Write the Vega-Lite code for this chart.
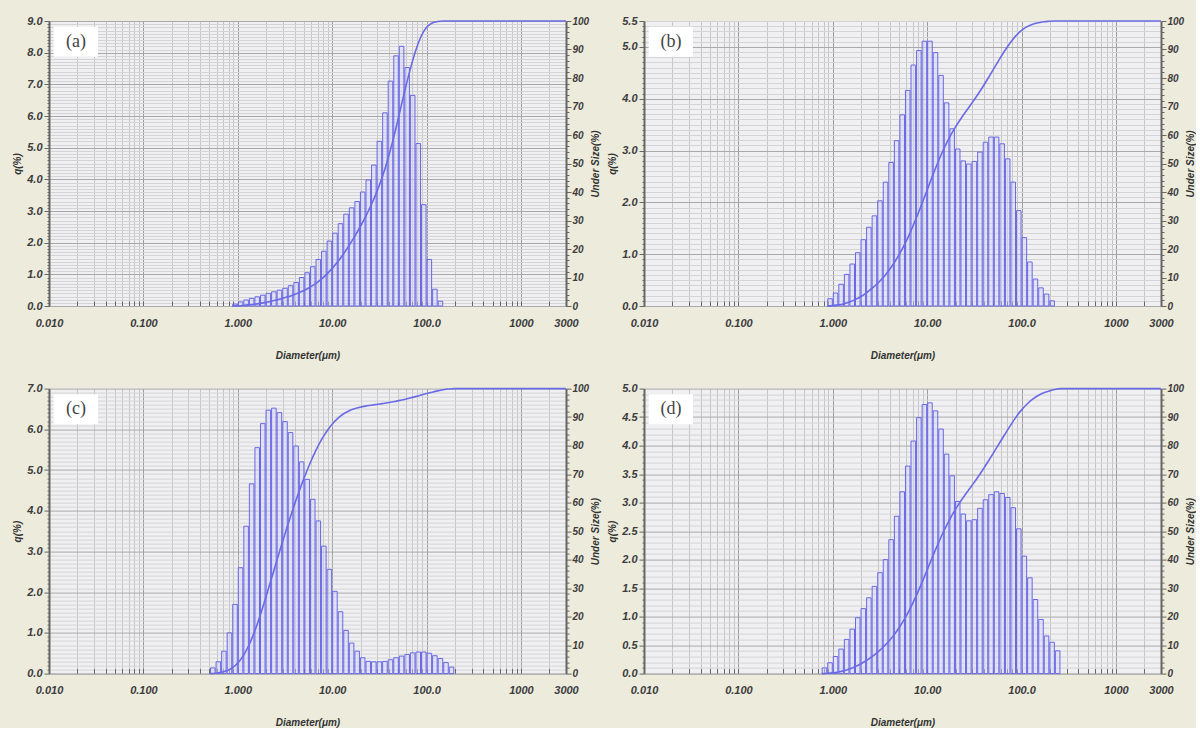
{
"$schema": "https://vega.github.io/schema/vega-lite/v6.json",
"background": "#ecebdc",
"padding": {"left": 12, "top": 15, "right": 0, "bottom": 0},
"bounds": "flush",
"columns": 2,
"spacing": {"row": 82.6, "column": 78},
"datasets": {
"qa": [
{"lo":0.8733,"hi":1,"q":0.06},{"lo":1,"hi":1.145,"q":0.13},{"lo":1.145,"hi":1.311,"q":0.19},{"lo":1.311,"hi":1.501,"q":0.24},{"lo":1.501,"hi":1.719,"q":0.29},{"lo":1.719,"hi":1.968,"q":0.34},{"lo":1.968,"hi":2.254,"q":0.40},{"lo":2.254,"hi":2.581,"q":0.45},{"lo":2.581,"hi":2.955,"q":0.50},{"lo":2.955,"hi":3.384,"q":0.56},{"lo":3.384,"hi":3.875,"q":0.64},{"lo":3.875,"hi":4.437,"q":0.74},{"lo":4.437,"hi":5.08,"q":0.90},{"lo":5.08,"hi":5.817,"q":1.05},{"lo":5.817,"hi":6.661,"q":1.24},{"lo":6.661,"hi":7.627,"q":1.47},{"lo":7.627,"hi":8.733,"q":1.73},{"lo":8.733,"hi":10,"q":2.05},{"lo":10,"hi":11.45,"q":2.30},{"lo":11.45,"hi":13.11,"q":2.60},{"lo":13.11,"hi":15.01,"q":2.90},{"lo":15.01,"hi":17.19,"q":3.10},{"lo":17.19,"hi":19.68,"q":3.30},{"lo":19.68,"hi":22.54,"q":3.60},{"lo":22.54,"hi":25.81,"q":3.98},{"lo":25.81,"hi":29.55,"q":4.45},{"lo":29.55,"hi":33.84,"q":5.20},{"lo":33.84,"hi":38.75,"q":6.10},{"lo":38.75,"hi":44.37,"q":7.10},{"lo":44.37,"hi":50.8,"q":7.90},{"lo":50.8,"hi":58.17,"q":8.20},{"lo":58.17,"hi":66.61,"q":7.53},{"lo":66.61,"hi":76.27,"q":6.65},{"lo":76.27,"hi":87.33,"q":5.13},{"lo":87.33,"hi":100,"q":3.20},{"lo":100,"hi":114.5,"q":1.47},{"lo":114.5,"hi":131.1,"q":0.53},{"lo":131.1,"hi":150.1,"q":0.15}
],
"ua": [
{"d":0.8733,"u":0},{"d":1,"u":0.06},{"d":1.145,"u":0.19},{"d":1.311,"u":0.39},{"d":1.501,"u":0.63},{"d":1.719,"u":0.93},{"d":1.968,"u":1.27},{"d":2.254,"u":1.68},{"d":2.581,"u":2.13},{"d":2.955,"u":2.64},{"d":3.384,"u":3.21},{"d":3.875,"u":3.86},{"d":4.437,"u":4.62},{"d":5.08,"u":5.53},{"d":5.817,"u":6.60},{"d":6.661,"u":7.86},{"d":7.627,"u":9.35},{"d":8.733,"u":11.11},{"d":10,"u":13.20},{"d":11.45,"u":15.53},{"d":13.11,"u":18.18},{"d":15.01,"u":21.12},{"d":17.19,"u":24.28},{"d":19.68,"u":27.63},{"d":22.54,"u":31.29},{"d":25.81,"u":35.34},{"d":29.55,"u":39.86},{"d":33.84,"u":45.15},{"d":38.75,"u":51.35},{"d":44.37,"u":58.56},{"d":50.8,"u":66.60},{"d":58.17,"u":74.93},{"d":66.61,"u":82.59},{"d":76.27,"u":89.35},{"d":87.33,"u":94.56},{"d":100,"u":97.81},{"d":114.5,"u":99.31},{"d":131.1,"u":99.85},{"d":150.1,"u":100},{"d":3000,"u":100}
],
"qb": [
{"lo":0.8733,"hi":1,"q":0.14},{"lo":1,"hi":1.145,"q":0.25},{"lo":1.145,"hi":1.311,"q":0.42},{"lo":1.311,"hi":1.501,"q":0.61},{"lo":1.501,"hi":1.719,"q":0.81},{"lo":1.719,"hi":1.968,"q":1.03},{"lo":1.968,"hi":2.254,"q":1.28},{"lo":2.254,"hi":2.581,"q":1.52},{"lo":2.581,"hi":2.955,"q":1.74},{"lo":2.955,"hi":3.384,"q":2.03},{"lo":3.384,"hi":3.875,"q":2.39},{"lo":3.875,"hi":4.437,"q":2.77},{"lo":4.437,"hi":5.08,"q":3.19},{"lo":5.08,"hi":5.817,"q":3.69},{"lo":5.817,"hi":6.661,"q":4.16},{"lo":6.661,"hi":7.627,"q":4.65},{"lo":7.627,"hi":8.733,"q":4.93},{"lo":8.733,"hi":10,"q":5.11},{"lo":10,"hi":11.45,"q":5.11},{"lo":11.45,"hi":13.11,"q":4.89},{"lo":13.11,"hi":15.01,"q":4.45},{"lo":15.01,"hi":17.19,"q":3.92},{"lo":17.19,"hi":19.68,"q":3.42},{"lo":19.68,"hi":22.54,"q":3.03},{"lo":22.54,"hi":25.81,"q":2.80},{"lo":25.81,"hi":29.55,"q":2.74},{"lo":29.55,"hi":33.84,"q":2.79},{"lo":33.84,"hi":38.75,"q":2.97},{"lo":38.75,"hi":44.37,"q":3.16},{"lo":44.37,"hi":50.8,"q":3.26},{"lo":50.8,"hi":58.17,"q":3.26},{"lo":58.17,"hi":66.61,"q":3.13},{"lo":66.61,"hi":76.27,"q":2.84},{"lo":76.27,"hi":87.33,"q":2.39},{"lo":87.33,"hi":100,"q":1.84},{"lo":100,"hi":114.5,"q":1.32},{"lo":114.5,"hi":131.1,"q":0.85},{"lo":131.1,"hi":150.1,"q":0.52},{"lo":150.1,"hi":171.9,"q":0.35},{"lo":171.9,"hi":196.8,"q":0.23},{"lo":196.8,"hi":225.4,"q":0.10}
],
"ub": [
{"d":0.8733,"u":0},{"d":1,"u":0.14},{"d":1.145,"u":0.39},{"d":1.311,"u":0.81},{"d":1.501,"u":1.42},{"d":1.719,"u":2.23},{"d":1.968,"u":3.26},{"d":2.254,"u":4.54},{"d":2.581,"u":6.06},{"d":2.955,"u":7.80},{"d":3.384,"u":9.83},{"d":3.875,"u":12.22},{"d":4.437,"u":14.99},{"d":5.08,"u":18.18},{"d":5.817,"u":21.87},{"d":6.661,"u":26.03},{"d":7.627,"u":30.68},{"d":8.733,"u":35.61},{"d":10,"u":40.72},{"d":11.45,"u":45.83},{"d":13.11,"u":50.72},{"d":15.01,"u":55.17},{"d":17.19,"u":59.09},{"d":19.68,"u":62.51},{"d":22.54,"u":65.54},{"d":25.81,"u":68.34},{"d":29.55,"u":71.08},{"d":33.84,"u":73.87},{"d":38.75,"u":76.84},{"d":44.37,"u":80.00},{"d":50.8,"u":83.26},{"d":58.17,"u":86.52},{"d":66.61,"u":89.65},{"d":76.27,"u":92.49},{"d":87.33,"u":94.88},{"d":100,"u":96.72},{"d":114.5,"u":98.04},{"d":131.1,"u":98.89},{"d":150.1,"u":99.41},{"d":171.9,"u":99.76},{"d":196.8,"u":99.9},{"d":225.4,"u":100},{"d":3000,"u":100}
],
"qc": [
{"lo":0.508,"hi":0.5817,"q":0.14},{"lo":0.5817,"hi":0.6661,"q":0.29},{"lo":0.6661,"hi":0.7627,"q":0.55},{"lo":0.7627,"hi":0.8733,"q":1.00},{"lo":0.8733,"hi":1,"q":1.70},{"lo":1,"hi":1.145,"q":2.60},{"lo":1.145,"hi":1.311,"q":3.62},{"lo":1.311,"hi":1.501,"q":4.66},{"lo":1.501,"hi":1.719,"q":5.55},{"lo":1.719,"hi":1.968,"q":6.14},{"lo":1.968,"hi":2.254,"q":6.47},{"lo":2.254,"hi":2.581,"q":6.52},{"lo":2.581,"hi":2.955,"q":6.41},{"lo":2.955,"hi":3.384,"q":6.19},{"lo":3.384,"hi":3.875,"q":5.92},{"lo":3.875,"hi":4.437,"q":5.59},{"lo":4.437,"hi":5.08,"q":5.20},{"lo":5.08,"hi":5.817,"q":4.77},{"lo":5.817,"hi":6.661,"q":4.28},{"lo":6.661,"hi":7.627,"q":3.75},{"lo":7.627,"hi":8.733,"q":3.13},{"lo":8.733,"hi":10,"q":2.56},{"lo":10,"hi":11.45,"q":2.02},{"lo":11.45,"hi":13.11,"q":1.52},{"lo":13.11,"hi":15.01,"q":1.06},{"lo":15.01,"hi":17.19,"q":0.75},{"lo":17.19,"hi":19.68,"q":0.55},{"lo":19.68,"hi":22.54,"q":0.39},{"lo":22.54,"hi":25.81,"q":0.30},{"lo":25.81,"hi":29.55,"q":0.29},{"lo":29.55,"hi":33.84,"q":0.29},{"lo":33.84,"hi":38.75,"q":0.30},{"lo":38.75,"hi":44.37,"q":0.34},{"lo":44.37,"hi":50.8,"q":0.39},{"lo":50.8,"hi":58.17,"q":0.43},{"lo":58.17,"hi":66.61,"q":0.47},{"lo":66.61,"hi":76.27,"q":0.51},{"lo":76.27,"hi":87.33,"q":0.53},{"lo":87.33,"hi":100,"q":0.53},{"lo":100,"hi":114.5,"q":0.50},{"lo":114.5,"hi":131.1,"q":0.44},{"lo":131.1,"hi":150.1,"q":0.37},{"lo":150.1,"hi":171.9,"q":0.27},{"lo":171.9,"hi":196.8,"q":0.16}
],
"uc": [
{"d":0.508,"u":0},{"d":0.5817,"u":0.14},{"d":0.6661,"u":0.43},{"d":0.7627,"u":0.99},{"d":0.8733,"u":1.99},{"d":1,"u":3.70},{"d":1.145,"u":6.31},{"d":1.311,"u":9.95},{"d":1.501,"u":14.64},{"d":1.719,"u":20.22},{"d":1.968,"u":26.40},{"d":2.254,"u":32.90},{"d":2.581,"u":39.46},{"d":2.955,"u":45.90},{"d":3.384,"u":52.13},{"d":3.875,"u":58.08},{"d":4.437,"u":63.70},{"d":5.08,"u":68.93},{"d":5.817,"u":73.73},{"d":6.661,"u":78.03},{"d":7.627,"u":81.80},{"d":8.733,"u":84.95},{"d":10,"u":87.52},{"d":11.45,"u":89.55},{"d":13.11,"u":91.08},{"d":15.01,"u":92.15},{"d":17.19,"u":92.90},{"d":19.68,"u":93.45},{"d":22.54,"u":93.85},{"d":25.81,"u":94.15},{"d":29.55,"u":94.44},{"d":33.84,"u":94.73},{"d":38.75,"u":95.03},{"d":44.37,"u":95.37},{"d":50.8,"u":95.77},{"d":58.17,"u":96.20},{"d":66.61,"u":96.67},{"d":76.27,"u":97.18},{"d":87.33,"u":97.72},{"d":100,"u":98.25},{"d":114.5,"u":98.75},{"d":131.1,"u":99.20},{"d":150.1,"u":99.57},{"d":171.9,"u":99.84},{"d":196.8,"u":100},{"d":3000,"u":100}
],
"qd": [
{"lo":0.7627,"hi":0.8733,"q":0.10},{"lo":0.8733,"hi":1,"q":0.19},{"lo":1,"hi":1.145,"q":0.30},{"lo":1.145,"hi":1.311,"q":0.43},{"lo":1.311,"hi":1.501,"q":0.60},{"lo":1.501,"hi":1.719,"q":0.78},{"lo":1.719,"hi":1.968,"q":0.98},{"lo":1.968,"hi":2.254,"q":1.14},{"lo":2.254,"hi":2.581,"q":1.33},{"lo":2.581,"hi":2.955,"q":1.53},{"lo":2.955,"hi":3.384,"q":1.77},{"lo":3.384,"hi":3.875,"q":2.00},{"lo":3.875,"hi":4.437,"q":2.35},{"lo":4.437,"hi":5.08,"q":2.76},{"lo":5.08,"hi":5.817,"q":3.19},{"lo":5.817,"hi":6.661,"q":3.64},{"lo":6.661,"hi":7.627,"q":4.08},{"lo":7.627,"hi":8.733,"q":4.49},{"lo":8.733,"hi":10,"q":4.72},{"lo":10,"hi":11.45,"q":4.75},{"lo":11.45,"hi":13.11,"q":4.61},{"lo":13.11,"hi":15.01,"q":4.29},{"lo":15.01,"hi":17.19,"q":3.85},{"lo":17.19,"hi":19.68,"q":3.47},{"lo":19.68,"hi":22.54,"q":3.02},{"lo":22.54,"hi":25.81,"q":2.80},{"lo":25.81,"hi":29.55,"q":2.68},{"lo":29.55,"hi":33.84,"q":2.70},{"lo":33.84,"hi":38.75,"q":2.90},{"lo":38.75,"hi":44.37,"q":3.05},{"lo":44.37,"hi":50.8,"q":3.14},{"lo":50.8,"hi":58.17,"q":3.19},{"lo":58.17,"hi":66.61,"q":3.16},{"lo":66.61,"hi":76.27,"q":3.09},{"lo":76.27,"hi":87.33,"q":2.91},{"lo":87.33,"hi":100,"q":2.54},{"lo":100,"hi":114.5,"q":2.06},{"lo":114.5,"hi":131.1,"q":1.68},{"lo":131.1,"hi":150.1,"q":1.30},{"lo":150.1,"hi":171.9,"q":0.95},{"lo":171.9,"hi":196.8,"q":0.66},{"lo":196.8,"hi":225.4,"q":0.55},{"lo":225.4,"hi":258.1,"q":0.40}
],
"ud": [
{"d":0.7627,"u":0},{"d":0.8733,"u":0.10},{"d":1,"u":0.29},{"d":1.145,"u":0.59},{"d":1.311,"u":1.02},{"d":1.501,"u":1.62},{"d":1.719,"u":2.40},{"d":1.968,"u":3.38},{"d":2.254,"u":4.52},{"d":2.581,"u":5.85},{"d":2.955,"u":7.38},{"d":3.384,"u":9.15},{"d":3.875,"u":11.15},{"d":4.437,"u":13.50},{"d":5.08,"u":16.26},{"d":5.817,"u":19.45},{"d":6.661,"u":23.09},{"d":7.627,"u":27.17},{"d":8.733,"u":31.66},{"d":10,"u":36.38},{"d":11.45,"u":41.13},{"d":13.11,"u":45.74},{"d":15.01,"u":50.03},{"d":17.19,"u":53.88},{"d":19.68,"u":57.35},{"d":22.54,"u":60.37},{"d":25.81,"u":63.17},{"d":29.55,"u":65.85},{"d":33.84,"u":68.55},{"d":38.75,"u":71.45},{"d":44.37,"u":74.50},{"d":50.8,"u":77.64},{"d":58.17,"u":80.83},{"d":66.61,"u":83.99},{"d":76.27,"u":87.08},{"d":87.33,"u":89.99},{"d":100,"u":92.53},{"d":114.5,"u":94.59},{"d":131.1,"u":96.27},{"d":150.1,"u":97.57},{"d":171.9,"u":98.52},{"d":196.8,"u":99.18},{"d":225.4,"u":99.70},{"d":258.1,"u":100},{"d":3000,"u":100}
]
},
"concat": [
{
"width": 517, "height": 285,
"layer": [
{"data": {"name": "qa"},
 "mark": {"type": "rect", "fill": "#d2d2f6", "fillOpacity": 0.45, "stroke": "#6868e6", "strokeWidth": 1, "xOffset": 0.5, "x2Offset": -0.5},
 "encoding": {
  "x": {"field": "lo", "type": "quantitative", "scale": {"type": "log", "domain": [0.01, 3000], "nice": false},
   "axis": {"title": "Diameter(μm)", "values": [0.01,0.02,0.03,0.04,0.05,0.06,0.07,0.08,0.09,0.1,0.2,0.3,0.4,0.5,0.6,0.7,0.8,0.9,1,2,3,4,5,6,7,8,9,10,20,30,40,50,60,70,80,90,100,200,300,400,500,600,700,800,900,1000,2000,3000],
    "labelExpr": "datum.value == 0.01 ? '0.010' : datum.value == 0.1 ? '0.100' : datum.value == 1 ? '1.000' : datum.value == 10 ? '10.00' : datum.value == 100 ? '100.0' : datum.value == 1000 ? '1000' : datum.value == 3000 ? '3000' : ''",
    "grid": true, "gridColor": {"condition": {"test": "indexof([0.01,0.1,1,10,100,1000], datum.value) >= 0", "value": "#9c9c9c"}, "value": "#c6c6c6"},
    "tickSize": -5, "domainColor": "#aaaaaa", "labelPadding": 16, "titlePadding": 22, "labelOverlap": false}},
  "x2": {"field": "hi"},
  "y": {"field": "q", "type": "quantitative", "scale": {"domain": [0, 9], "nice": false},
   "axis": {"title": "q(%)", "values": [0,0.1,0.2,0.3,0.4,0.5,0.6,0.7,0.8,0.9,1,1.1,1.2,1.3,1.4,1.5,1.6,1.7,1.8,1.9,2,2.1,2.2,2.3,2.4,2.5,2.6,2.7,2.8,2.9,3,3.1,3.2,3.3,3.4,3.5,3.6,3.7,3.8,3.9,4,4.1,4.2,4.3,4.4,4.5,4.6,4.7,4.8,4.9,5,5.1,5.2,5.3,5.4,5.5,5.6,5.7,5.8,5.9,6,6.1,6.2,6.3,6.4,6.5,6.6,6.7,6.8,6.9,7,7.1,7.2,7.3,7.4,7.5,7.6,7.7,7.8,7.9,8,8.1,8.2,8.3,8.4,8.5,8.6,8.7,8.8,8.9,9],
    "labelExpr": "datum.value % 1 === 0 ? format(datum.value, '.1f') : ''",
    "grid": true, "gridColor": {"condition": {"test": "datum.value % 1 === 0", "value": "#a9a9a9"}, "value": "#d4d4d4"},
    "tickSize": {"condition": {"test": "datum.value % 1 === 0", "value": 5}, "value": 2},
    "domainColor": "#666666", "domainWidth": 2, "labelPadding": 2, "titlePadding": 4, "labelOverlap": false}},
  "y2": {"datum": 0}
 }},
{"data": {"name": "ua"},
 "mark": {"type": "line", "color": "#6a6ae6", "strokeWidth": 1.6, "interpolate": "monotone"},
 "encoding": {
  "x": {"field": "d", "type": "quantitative"},
  "y": {"field": "u", "type": "quantitative", "scale": {"domain": [0, 100], "nice": false},
   "axis": {"orient": "right", "title": "Under Size(%)", "titleAngle": -90, "titleBaseline": "top", "values": [0,2,4,6,8,10,12,14,16,18,20,22,24,26,28,30,32,34,36,38,40,42,44,46,48,50,52,54,56,58,60,62,64,66,68,70,72,74,76,78,80,82,84,86,88,90,92,94,96,98,100],
    "labelExpr": "datum.value % 10 === 0 ? format(datum.value, 'd') : ''", "grid": false, "labelOverlap": false, "labelFontSize": 10,
    "tickSize": {"condition": {"test": "datum.value % 10 === 0", "value": 5}, "value": 3},
    "domainColor": "#666666", "domainWidth": 2, "labelPadding": 1, "titlePadding": 2}}}},
{"data": {"values": [{"t": "(a)"}]},
 "layer": [
  {"mark": {"type": "rect", "color": "white"},
   "encoding": {"x": {"datum": 0.0112}, "x2": {"datum": 0.033}, "y": {"datum": 98, "scale": {"domain": [0, 100]}, "axis": null}, "y2": {"datum": 87.5}}},
  {"mark": {"type": "text", "font": "Liberation Serif", "fontSize": 18, "color": "#444444"},
   "encoding": {"text": {"field": "t"}, "x": {"datum": 0.0193}, "y": {"datum": 92.7, "axis": null}}}
 ]}
],
"resolve": {"scale": {"y": "independent"}}
},
{
"width": 517, "height": 285,
"layer": [
{"data": {"name": "qb"},
 "mark": {"type": "rect", "fill": "#d2d2f6", "fillOpacity": 0.45, "stroke": "#6868e6", "strokeWidth": 1, "xOffset": 0.5, "x2Offset": -0.5},
 "encoding": {
  "x": {"field": "lo", "type": "quantitative", "scale": {"type": "log", "domain": [0.01, 3000], "nice": false},
   "axis": {"title": "Diameter(μm)", "values": [0.01,0.02,0.03,0.04,0.05,0.06,0.07,0.08,0.09,0.1,0.2,0.3,0.4,0.5,0.6,0.7,0.8,0.9,1,2,3,4,5,6,7,8,9,10,20,30,40,50,60,70,80,90,100,200,300,400,500,600,700,800,900,1000,2000,3000],
    "labelExpr": "datum.value == 0.01 ? '0.010' : datum.value == 0.1 ? '0.100' : datum.value == 1 ? '1.000' : datum.value == 10 ? '10.00' : datum.value == 100 ? '100.0' : datum.value == 1000 ? '1000' : datum.value == 3000 ? '3000' : ''",
    "grid": true, "gridColor": {"condition": {"test": "indexof([0.01,0.1,1,10,100,1000], datum.value) >= 0", "value": "#9c9c9c"}, "value": "#c6c6c6"},
    "tickSize": -5, "domainColor": "#aaaaaa", "labelPadding": 16, "titlePadding": 22, "labelOverlap": false}},
  "x2": {"field": "hi"},
  "y": {"field": "q", "type": "quantitative", "scale": {"domain": [0, 5.5], "nice": false},
   "axis": {"title": "q(%)", "values": [0,0.1,0.2,0.3,0.4,0.5,0.6,0.7,0.8,0.9,1,1.1,1.2,1.3,1.4,1.5,1.6,1.7,1.8,1.9,2,2.1,2.2,2.3,2.4,2.5,2.6,2.7,2.8,2.9,3,3.1,3.2,3.3,3.4,3.5,3.6,3.7,3.8,3.9,4,4.1,4.2,4.3,4.4,4.5,4.6,4.7,4.8,4.9,5,5.1,5.2,5.3,5.4,5.5],
    "labelExpr": "(datum.value % 1 === 0 || datum.value === 5.5) ? format(datum.value, '.1f') : ''",
    "grid": true, "gridColor": {"condition": {"test": "datum.value % 1 === 0", "value": "#a9a9a9"}, "value": "#d4d4d4"},
    "tickSize": {"condition": {"test": "datum.value % 1 === 0 || datum.value === 5.5", "value": 5}, "value": 2},
    "domainColor": "#666666", "domainWidth": 2, "labelPadding": 2, "titlePadding": 4, "labelOverlap": false}},
  "y2": {"datum": 0}
 }},
{"data": {"name": "ub"},
 "mark": {"type": "line", "color": "#6a6ae6", "strokeWidth": 1.6, "interpolate": "monotone"},
 "encoding": {
  "x": {"field": "d", "type": "quantitative"},
  "y": {"field": "u", "type": "quantitative", "scale": {"domain": [0, 100], "nice": false},
   "axis": {"orient": "right", "title": "Under Size(%)", "titleAngle": -90, "titleBaseline": "top", "values": [0,2,4,6,8,10,12,14,16,18,20,22,24,26,28,30,32,34,36,38,40,42,44,46,48,50,52,54,56,58,60,62,64,66,68,70,72,74,76,78,80,82,84,86,88,90,92,94,96,98,100],
    "labelExpr": "datum.value % 10 === 0 ? format(datum.value, 'd') : ''", "grid": false, "labelOverlap": false, "labelFontSize": 10,
    "tickSize": {"condition": {"test": "datum.value % 10 === 0", "value": 5}, "value": 3},
    "domainColor": "#666666", "domainWidth": 2, "labelPadding": 1, "titlePadding": 2}}}},
{"data": {"values": [{"t": "(b)"}]},
 "layer": [
  {"mark": {"type": "rect", "color": "white"},
   "encoding": {"x": {"datum": 0.0112}, "x2": {"datum": 0.033}, "y": {"datum": 98, "scale": {"domain": [0, 100]}, "axis": null}, "y2": {"datum": 87.5}}},
  {"mark": {"type": "text", "font": "Liberation Serif", "fontSize": 18, "color": "#444444"},
   "encoding": {"text": {"field": "t"}, "x": {"datum": 0.0193}, "y": {"datum": 92.7, "axis": null}}}
 ]}
],
"resolve": {"scale": {"y": "independent"}}
},
{
"width": 517, "height": 285,
"layer": [
{"data": {"name": "qc"},
 "mark": {"type": "rect", "fill": "#d2d2f6", "fillOpacity": 0.45, "stroke": "#6868e6", "strokeWidth": 1, "xOffset": 0.5, "x2Offset": -0.5},
 "encoding": {
  "x": {"field": "lo", "type": "quantitative", "scale": {"type": "log", "domain": [0.01, 3000], "nice": false},
   "axis": {"title": "Diameter(μm)", "values": [0.01,0.02,0.03,0.04,0.05,0.06,0.07,0.08,0.09,0.1,0.2,0.3,0.4,0.5,0.6,0.7,0.8,0.9,1,2,3,4,5,6,7,8,9,10,20,30,40,50,60,70,80,90,100,200,300,400,500,600,700,800,900,1000,2000,3000],
    "labelExpr": "datum.value == 0.01 ? '0.010' : datum.value == 0.1 ? '0.100' : datum.value == 1 ? '1.000' : datum.value == 10 ? '10.00' : datum.value == 100 ? '100.0' : datum.value == 1000 ? '1000' : datum.value == 3000 ? '3000' : ''",
    "grid": true, "gridColor": {"condition": {"test": "indexof([0.01,0.1,1,10,100,1000], datum.value) >= 0", "value": "#9c9c9c"}, "value": "#c6c6c6"},
    "tickSize": -5, "domainColor": "#aaaaaa", "labelPadding": 16, "titlePadding": 22, "labelOverlap": false}},
  "x2": {"field": "hi"},
  "y": {"field": "q", "type": "quantitative", "scale": {"domain": [0, 7], "nice": false},
   "axis": {"title": "q(%)", "values": [0,0.1,0.2,0.3,0.4,0.5,0.6,0.7,0.8,0.9,1,1.1,1.2,1.3,1.4,1.5,1.6,1.7,1.8,1.9,2,2.1,2.2,2.3,2.4,2.5,2.6,2.7,2.8,2.9,3,3.1,3.2,3.3,3.4,3.5,3.6,3.7,3.8,3.9,4,4.1,4.2,4.3,4.4,4.5,4.6,4.7,4.8,4.9,5,5.1,5.2,5.3,5.4,5.5,5.6,5.7,5.8,5.9,6,6.1,6.2,6.3,6.4,6.5,6.6,6.7,6.8,6.9,7],
    "labelExpr": "datum.value % 1 === 0 ? format(datum.value, '.1f') : ''",
    "grid": true, "gridColor": {"condition": {"test": "datum.value % 1 === 0", "value": "#a9a9a9"}, "value": "#d4d4d4"},
    "tickSize": {"condition": {"test": "datum.value % 1 === 0", "value": 5}, "value": 2},
    "domainColor": "#666666", "domainWidth": 2, "labelPadding": 2, "titlePadding": 4, "labelOverlap": false}},
  "y2": {"datum": 0}
 }},
{"data": {"name": "uc"},
 "mark": {"type": "line", "color": "#6a6ae6", "strokeWidth": 1.6, "interpolate": "monotone"},
 "encoding": {
  "x": {"field": "d", "type": "quantitative"},
  "y": {"field": "u", "type": "quantitative", "scale": {"domain": [0, 100], "nice": false},
   "axis": {"orient": "right", "title": "Under Size(%)", "titleAngle": -90, "titleBaseline": "top", "values": [0,2,4,6,8,10,12,14,16,18,20,22,24,26,28,30,32,34,36,38,40,42,44,46,48,50,52,54,56,58,60,62,64,66,68,70,72,74,76,78,80,82,84,86,88,90,92,94,96,98,100],
    "labelExpr": "datum.value % 10 === 0 ? format(datum.value, 'd') : ''", "grid": false, "labelOverlap": false, "labelFontSize": 10,
    "tickSize": {"condition": {"test": "datum.value % 10 === 0", "value": 5}, "value": 3},
    "domainColor": "#666666", "domainWidth": 2, "labelPadding": 1, "titlePadding": 2}}}},
{"data": {"values": [{"t": "(c)"}]},
 "layer": [
  {"mark": {"type": "rect", "color": "white"},
   "encoding": {"x": {"datum": 0.0112}, "x2": {"datum": 0.033}, "y": {"datum": 98, "scale": {"domain": [0, 100]}, "axis": null}, "y2": {"datum": 87.5}}},
  {"mark": {"type": "text", "font": "Liberation Serif", "fontSize": 18, "color": "#444444"},
   "encoding": {"text": {"field": "t"}, "x": {"datum": 0.0193}, "y": {"datum": 92.7, "axis": null}}}
 ]}
],
"resolve": {"scale": {"y": "independent"}}
},
{
"width": 517, "height": 285,
"layer": [
{"data": {"name": "qd"},
 "mark": {"type": "rect", "fill": "#d2d2f6", "fillOpacity": 0.45, "stroke": "#6868e6", "strokeWidth": 1, "xOffset": 0.5, "x2Offset": -0.5},
 "encoding": {
  "x": {"field": "lo", "type": "quantitative", "scale": {"type": "log", "domain": [0.01, 3000], "nice": false},
   "axis": {"title": "Diameter(μm)", "values": [0.01,0.02,0.03,0.04,0.05,0.06,0.07,0.08,0.09,0.1,0.2,0.3,0.4,0.5,0.6,0.7,0.8,0.9,1,2,3,4,5,6,7,8,9,10,20,30,40,50,60,70,80,90,100,200,300,400,500,600,700,800,900,1000,2000,3000],
    "labelExpr": "datum.value == 0.01 ? '0.010' : datum.value == 0.1 ? '0.100' : datum.value == 1 ? '1.000' : datum.value == 10 ? '10.00' : datum.value == 100 ? '100.0' : datum.value == 1000 ? '1000' : datum.value == 3000 ? '3000' : ''",
    "grid": true, "gridColor": {"condition": {"test": "indexof([0.01,0.1,1,10,100,1000], datum.value) >= 0", "value": "#9c9c9c"}, "value": "#c6c6c6"},
    "tickSize": -5, "domainColor": "#aaaaaa", "labelPadding": 16, "titlePadding": 22, "labelOverlap": false}},
  "x2": {"field": "hi"},
  "y": {"field": "q", "type": "quantitative", "scale": {"domain": [0, 5], "nice": false},
   "axis": {"title": "q(%)", "values": [0,0.1,0.2,0.3,0.4,0.5,0.6,0.7,0.8,0.9,1,1.1,1.2,1.3,1.4,1.5,1.6,1.7,1.8,1.9,2,2.1,2.2,2.3,2.4,2.5,2.6,2.7,2.8,2.9,3,3.1,3.2,3.3,3.4,3.5,3.6,3.7,3.8,3.9,4,4.1,4.2,4.3,4.4,4.5,4.6,4.7,4.8,4.9,5],
    "labelExpr": "(datum.value * 2) % 1 === 0 ? format(datum.value, '.1f') : ''",
    "grid": true, "gridColor": {"condition": {"test": "(datum.value * 2) % 1 === 0", "value": "#a9a9a9"}, "value": "#d4d4d4"},
    "tickSize": {"condition": {"test": "(datum.value * 2) % 1 === 0", "value": 5}, "value": 2},
    "domainColor": "#666666", "domainWidth": 2, "labelPadding": 2, "titlePadding": 4, "labelOverlap": false}},
  "y2": {"datum": 0}
 }},
{"data": {"name": "ud"},
 "mark": {"type": "line", "color": "#6a6ae6", "strokeWidth": 1.6, "interpolate": "monotone"},
 "encoding": {
  "x": {"field": "d", "type": "quantitative"},
  "y": {"field": "u", "type": "quantitative", "scale": {"domain": [0, 100], "nice": false},
   "axis": {"orient": "right", "title": "Under Size(%)", "titleAngle": -90, "titleBaseline": "top", "values": [0,2,4,6,8,10,12,14,16,18,20,22,24,26,28,30,32,34,36,38,40,42,44,46,48,50,52,54,56,58,60,62,64,66,68,70,72,74,76,78,80,82,84,86,88,90,92,94,96,98,100],
    "labelExpr": "datum.value % 10 === 0 ? format(datum.value, 'd') : ''", "grid": false, "labelOverlap": false, "labelFontSize": 10,
    "tickSize": {"condition": {"test": "datum.value % 10 === 0", "value": 5}, "value": 3},
    "domainColor": "#666666", "domainWidth": 2, "labelPadding": 1, "titlePadding": 2}}}},
{"data": {"values": [{"t": "(d)"}]},
 "layer": [
  {"mark": {"type": "rect", "color": "white"},
   "encoding": {"x": {"datum": 0.0112}, "x2": {"datum": 0.033}, "y": {"datum": 98, "scale": {"domain": [0, 100]}, "axis": null}, "y2": {"datum": 87.5}}},
  {"mark": {"type": "text", "font": "Liberation Serif", "fontSize": 18, "color": "#444444"},
   "encoding": {"text": {"field": "t"}, "x": {"datum": 0.0193}, "y": {"datum": 92.7, "axis": null}}}
 ]}
],
"resolve": {"scale": {"y": "independent"}}
}
],
"config": {
 "view": {"fill": "#f0f0f3", "stroke": null},
 "axis": {"labelFont": "Liberation Sans", "labelFontSize": 11, "labelFontStyle": "italic", "labelFontWeight": "bold", "labelColor": "#3c3c3c",
  "titleFont": "Liberation Sans", "titleFontSize": 10, "titleFontStyle": "italic", "titleFontWeight": "bold", "titleColor": "#333333",
  "labelOverlap": false, "labelFlush": false, "tickColor": "#666666"}
}
}
